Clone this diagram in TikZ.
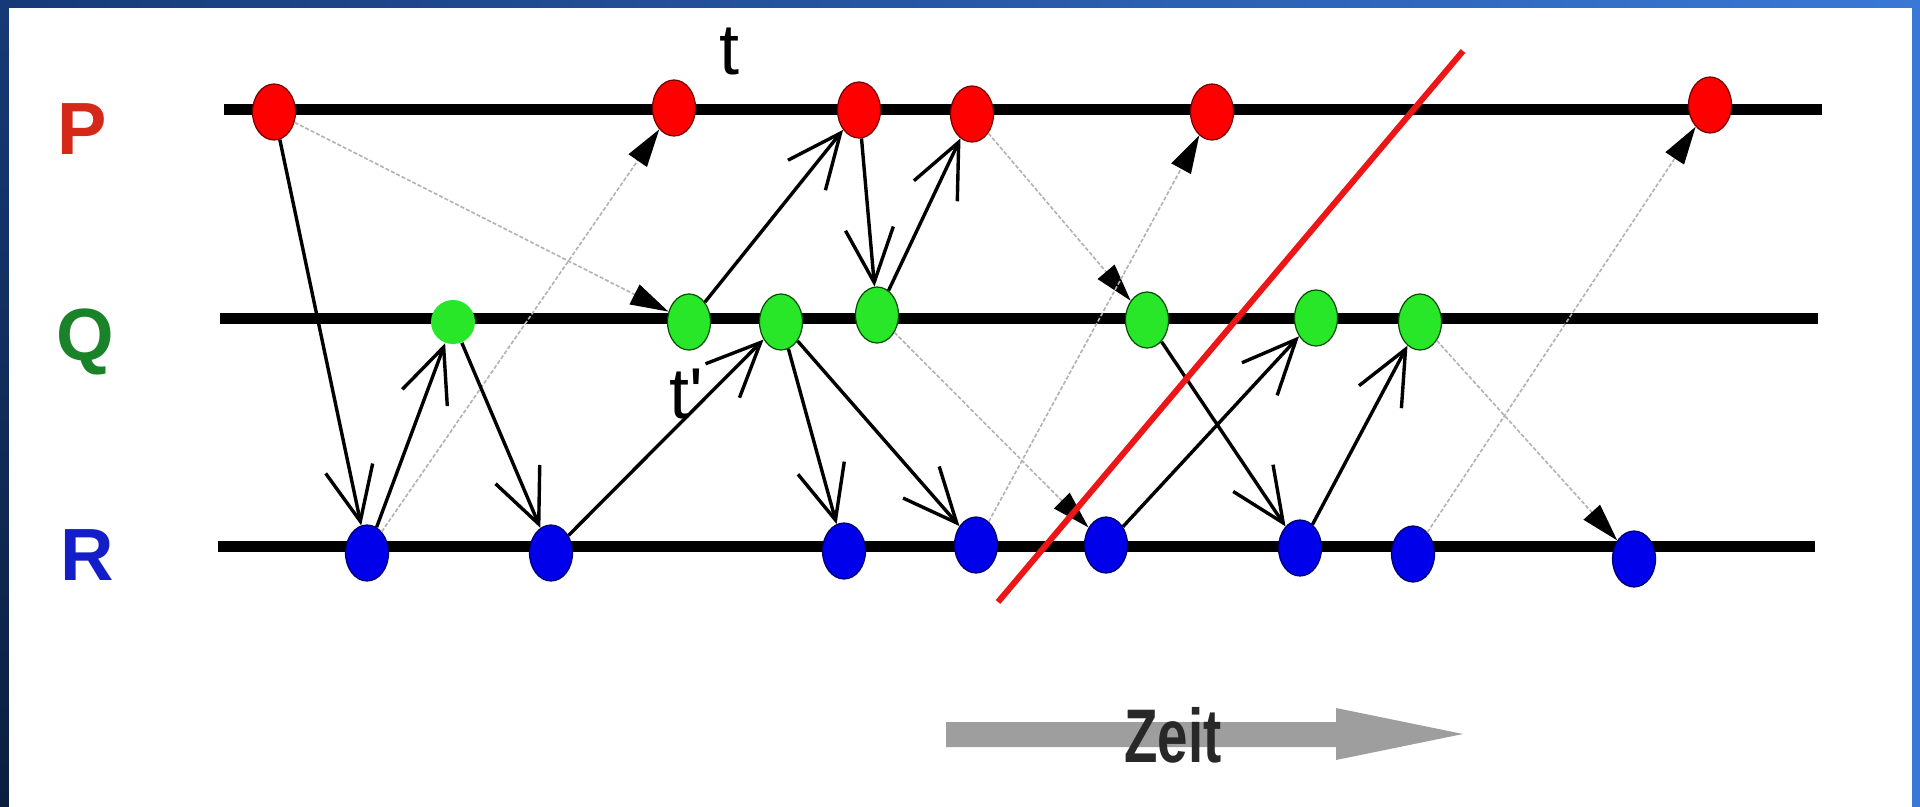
\documentclass[tikz,border=0pt]{standalone}
\usepackage{fontspec}
\setmainfont{Liberation Sans}
\usetikzlibrary{arrows.meta}
\usetikzlibrary{shapes.geometric}
\definecolor{frameleft}{RGB}{22,58,118}
\definecolor{frameright}{RGB}{58,120,214}
\definecolor{framedark}{RGB}{12,30,62}
\definecolor{pred}{RGB}{214,40,24}
\definecolor{qgreen}{RGB}{26,130,40}
\definecolor{rblue}{RGB}{20,30,200}
\definecolor{zeitgray}{RGB}{158,158,158}
\definecolor{cutred}{RGB}{236,22,22}

\begin{document}
\begin{tikzpicture}[x=0.5pt,y=-0.5pt]
\tikzstyle{vertex}=[ellipse,line width=0.6pt,minimum width=21.5pt,minimum height=28pt,inner sep=0pt]
\tikzstyle{pvertex}=[vertex,fill=red,draw=red!45!black]
\tikzstyle{qvertex}=[vertex,fill={rgb,255:red,40;green,230;blue,40},draw=green!30!black]
\tikzstyle{rvertex}=[vertex,fill={rgb,255:red,0;green,0;blue,235},draw=blue!40!black]
\tikzstyle{procline}=[line width=5.5pt]
\tikzstyle{msg}=[line width=1.7pt,-{Straight Barb[length=27pt,width=24pt]}]
\tikzstyle{slow}=[line width=0.8pt,gray!60,dash pattern=on 2pt off 1pt,-{Triangle[length=19pt,width=11pt,color=black]}]
\tikzstyle{proc}=[font=\bfseries\fontsize{37}{40}\selectfont,anchor=base]
\tikzstyle{stamp}=[font=\fontsize{36}{40}\selectfont,anchor=base]
\useasboundingbox (0,0) rectangle (1920,807);
\shade[left color=frameleft,right color=frameright] (0,0) rectangle (1920,807);
\shade[top color=frameleft,bottom color=framedark] (0,8) rectangle (9,807);
\fill[white] (9,8) rectangle (1912,807);
\coordinate (Pa) at (224,110); \coordinate (Pb) at (1822,110);
\coordinate (Qa) at (220,319); \coordinate (Qb) at (1818,319);
\coordinate (Ra) at (218,546); \coordinate (Rb) at (1815,546);
\draw[procline] (Pa) -- (Pb);
\draw[procline] (Qa) -- (Qb);
\draw[procline] (Ra) -- (Rb);
\node[proc,text=pred] (Plab) at (82,155) {P};
\node[proc,text=qgreen] (Qlab) at (85,361) {Q};
\node[proc,text=rblue] (Rlab) at (87,580) {R};
\node[pvertex] (P1) at (274,112){} ;
\node[pvertex] (P2) at (674,108){} ;
\node[pvertex] (P3) at (859,110){} ;
\node[pvertex] (P4) at (972,114){} ;
\node[pvertex] (P5) at (1212,112){} ;
\node[pvertex] (P6) at (1710,105){} ;
\node[qvertex,draw=none,ellipse,minimum width=22pt,minimum height=22pt] (Q1) at (453,322){} ;
\node[qvertex] (Q2) at (689,322){} ;
\node[qvertex] (Q3) at (781,322){} ;
\node[qvertex] (Q4) at (877,315){} ;
\node[qvertex] (Q5) at (1147,320){} ;
\node[qvertex] (Q6) at (1316,318){} ;
\node[qvertex] (Q7) at (1420,322){} ;
\node[rvertex] (R1) at (367,553){} ;
\node[rvertex] (R2) at (551,553){} ;
\node[rvertex] (R3) at (844,551){} ;
\node[rvertex] (R4) at (976,545){} ;
\node[rvertex] (R5) at (1106,545){} ;
\node[rvertex] (R6) at (1300,548){} ;
\node[rvertex] (R7) at (1413,554){} ;
\node[rvertex] (R8) at (1634,559){} ;
\draw[slow] (P1) -- (Q2);
\draw[slow] (R1) -- (P2);
\draw[slow] (P4) -- (Q5);
\draw[slow] (R4) -- (P5);
\draw[slow] (Q4) -- (R5);
\draw[slow] (Q7) -- (R8);
\draw[slow] (R7) -- (P6);
\draw[msg] (P1) -- (R1);
\draw[msg] (R1) -- (Q1);
\draw[msg] (Q1) -- (R2);
\draw[msg] (R2) -- (Q3);
\draw[msg] (Q2) -- (P3);
\draw[msg] (P3) -- (Q4);
\draw[msg] (Q4) -- (P4);
\draw[msg] (Q3) -- (R3);
\draw[msg] (Q3) -- (R4);
\draw[msg] (Q5) -- (R6);
\draw[msg] (R5) -- (Q6);
\draw[msg] (R6) -- (Q7);
\node[stamp] (t) at (729,75) {t};
\node[stamp] (tp) at (686,418) {t\textquotesingle};
\coordinate (cutA) at (998,602); \coordinate (cutB) at (1463,51);
\draw[cutred,line width=3pt] (cutA) -- (cutB);
\fill[zeitgray] (946,722) -- (1336,722) -- (1336,708) -- (1463,734) -- (1336,760) -- (1336,747) -- (946,747) -- cycle;
\node[font=\bfseries\fontsize{38}{40}\selectfont,text=zeitgray!25!black,anchor=base] (zeit) at (1173,762) {\scalebox{0.72}[1]{Zeit}};
\end{tikzpicture}
\end{document}
